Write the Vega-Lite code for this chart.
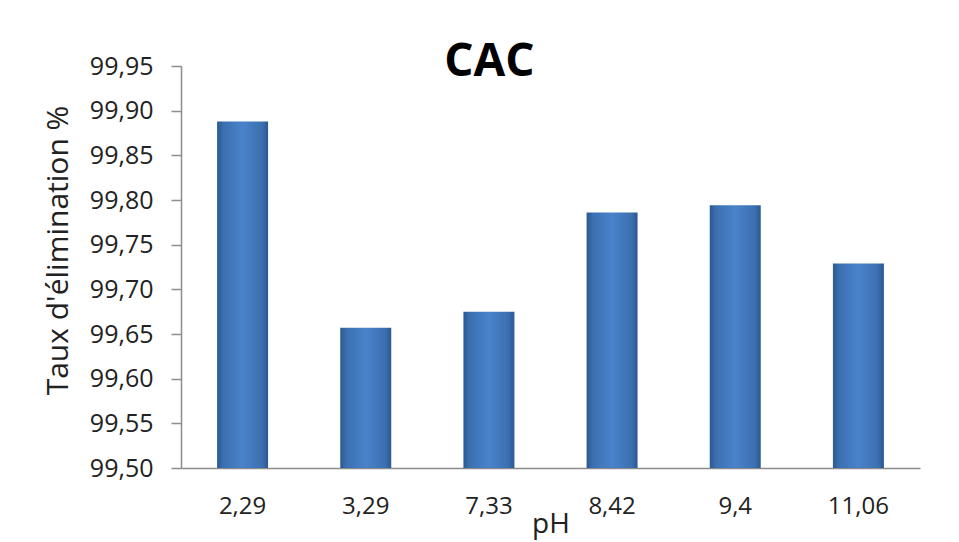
{
  "$schema": "https://vega.github.io/schema/vega-lite/v6.json",
  "autosize": {"type": "none"},
  "padding": {"left": 181, "top": 66, "right": 39, "bottom": 74},
  "width": 739,
  "height": 402,
  "background": "white",
  "title": {
    "text": "CAC",
    "font": "Open Sans",
    "fontSize": 46,
    "fontWeight": "bold",
    "color": "#000000",
    "anchor": "middle",
    "frame": "group",
    "baseline": "alphabetic",
    "offset": -68,
    "dx": -61
  },
  "data": {
    "values": [
      {"pH": "2,29", "taux": 99.888},
      {"pH": "3,29", "taux": 99.657},
      {"pH": "7,33", "taux": 99.675},
      {"pH": "8,42", "taux": 99.786},
      {"pH": "9,4", "taux": 99.794},
      {"pH": "11,06", "taux": 99.729}
    ]
  },
  "config": {
    "view": {"stroke": null},
    "axis": {
      "labelFont": "Open Sans",
      "titleFont": "Open Sans",
      "labelColor": "#222222",
      "titleColor": "#222222",
      "titleFontWeight": "normal",
      "domainColor": "#8c8c8c",
      "tickColor": "#8c8c8c",
      "domainWidth": 1.5,
      "tickWidth": 1.5
    }
  },
  "mark": {
    "type": "bar",
    "color": {
      "gradient": "linear",
      "x1": 0, "x2": 1, "y1": 0, "y2": 0,
      "stops": [
        {"offset": 0, "color": "#2b5890"},
        {"offset": 0.12, "color": "#3b6fb0"},
        {"offset": 0.5, "color": "#4a83cb"},
        {"offset": 0.88, "color": "#3b6fb0"},
        {"offset": 1, "color": "#2b5890"}
      ]
    },
    "clip": true
  },
  "encoding": {
    "x": {
      "field": "pH",
      "type": "nominal",
      "sort": null,
      "scale": {"paddingInner": 0.586, "paddingOuter": 0.293},
      "axis": {
        "title": "pH",
        "labelAngle": 0,
        "labelFontSize": 24,
        "labelBaseline": "alphabetic",
        "labelPadding": 45,
        "ticks": false,
        "grid": false,
        "titleFontSize": 28,
        "titleBaseline": "alphabetic",
        "titleY": 64
      }
    },
    "y": {
      "field": "taux",
      "type": "quantitative",
      "scale": {"domain": [99.5, 99.95], "zero": false, "nice": false},
      "axis": {
        "title": "Taux d'élimination %",
        "values": [99.5, 99.55, 99.6, 99.65, 99.7, 99.75, 99.8, 99.85, 99.9, 99.95],
        "labelExpr": "replace(format(datum.value, '.2f'), '.', ',')",
        "labelFontSize": 25,
        "labelPadding": 18,
        "tickSize": 10,
        "grid": false,
        "titleFontSize": 30,
        "titleAngle": -90,
        "titleBaseline": "alphabetic",
        "titleX": -114,
        "titleY": 184
      }
    }
  }
}
